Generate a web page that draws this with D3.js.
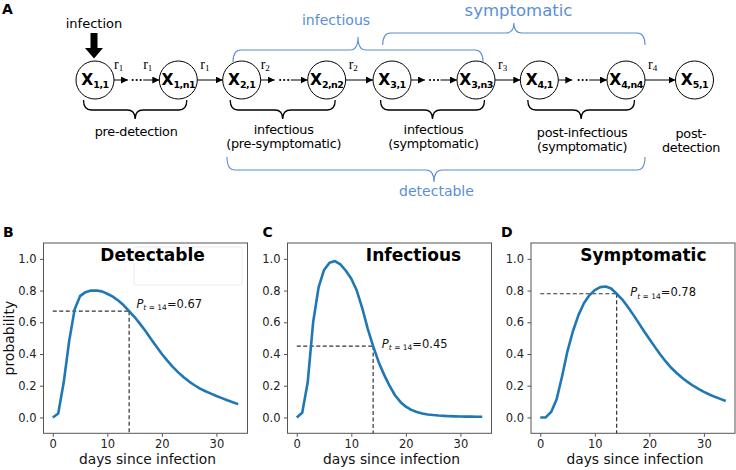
<!DOCTYPE html>
<html><head><meta charset="utf-8">
<script src="https://cdn.jsdelivr.net/npm/d3@7"></script>
<style>body{margin:0;background:#fff}svg{display:block}</style>
</head><body>
<svg id="chart" width="736" height="470"></svg>
<script>
// ---------------- DATA ----------------
const days = d3.range(0, 35);
const detectable = [0, 0.025, 0.22, 0.48, 0.68, 0.765, 0.79, 0.80, 0.80, 0.795,
  0.78, 0.762, 0.737, 0.707, 0.67, 0.633, 0.59, 0.545, 0.495, 0.447,
  0.40, 0.358, 0.319, 0.284, 0.253, 0.226, 0.203, 0.182, 0.165, 0.150,
  0.135, 0.122, 0.108, 0.096, 0.084];
const infectious = [0, 0.03, 0.22, 0.6, 0.82, 0.93, 0.976, 0.986, 0.965, 0.925,
  0.875, 0.80, 0.69, 0.56, 0.45, 0.35, 0.27, 0.2, 0.14, 0.098,
  0.068, 0.048, 0.034, 0.025, 0.019, 0.015, 0.012, 0.010, 0.008, 0.007,
  0.006, 0.005, 0.005, 0.004, 0.004];
const symptomatic = [0, 0.0, 0.035, 0.115, 0.26, 0.42, 0.545, 0.645, 0.72, 0.77,
  0.803, 0.822, 0.826, 0.813, 0.78, 0.745, 0.70, 0.65, 0.598, 0.545,
  0.495, 0.445, 0.397, 0.353, 0.313, 0.28, 0.25, 0.224, 0.2, 0.18,
  0.161, 0.145, 0.13, 0.117, 0.104];
const panelTitles = ["Detectable", "Infectious", "Symptomatic"];
const panelLetters = ["B", "C", "D"];
const checkDay = 14;
const checkValues = [0.67, 0.45, 0.78];
const xTicks = [0, 10, 20, 30];
const yTicks = [0, 0.2, 0.4, 0.6, 0.8, 1.0];
const xLabel = "days since infection";
const yLabel = "probability";

// diagram content
const nodeSubs = ["1,1", "1,n1", "2,1", "2,n2", "3,1", "3,n3", "4,1", "4,n4", "5,1"];
const chains = [[0, 1], [2, 3], [4, 5], [6, 7]];
const transitions = [[1, 2, "1"], [3, 4, "2"], [5, 6, "3"], [7, 8, "4"]];
const chainRates = [["0a", "1"], ["0b", "1"], ["1a", "2"]];
const braceLabels = [["pre-detection"], ["infectious", "(pre-symptomatic)"],
  ["infectious", "(symptomatic)"], ["post-infectious", "(symptomatic)"]];
const endLabel = ["post-", "detection"];
const blueGroups = [
  {label: "infectious", from: 2, to: 5},
  {label: "symptomatic", from: 4, to: 7},
  {label: "detectable", from: 2, to: 7}
];

// ---------------- LAYOUT ----------------
const svg = d3.select("#chart");
const FONT = "DejaVu Sans, Verdana, sans-serif";
const BLUE = "#5b8ed8";
const nodeX = [95, 178.3, 241.7, 326.7, 392, 476, 539.3, 626, 694.5];
const nodeY = 80, R = 19;

svg.append("defs").append("marker")
  .attr("id", "ah").attr("markerUnits", "userSpaceOnUse")
  .attr("markerWidth", 8).attr("markerHeight", 7)
  .attr("refX", 7).attr("refY", 3.5).attr("orient", "auto")
  .append("path").attr("d", "M0,0 L7,3.5 L0,7 z").attr("fill", "#000");

const A = svg.append("g");
A.append("text").attr("x", 2).attr("y", 14).text("A")
  .attr("font-family", FONT).attr("font-weight", "bold").attr("font-size", 14);

function arrow(x1, x2) {
  A.append("line").attr("x1", x1).attr("x2", x2).attr("y1", nodeY).attr("y2", nodeY)
    .attr("stroke", "#000").attr("stroke-width", 1).attr("marker-end", "url(#ah)");
}
function rateLabel(x, sub) {
  const t = A.append("text").attr("x", x).attr("y", 69)
    .attr("font-family", "Liberation Serif, serif").attr("font-size", 14);
  t.append("tspan").text("r");
  t.append("tspan").attr("font-size", 9).attr("dy", 2).text(sub);
}

// chains with dots
const chainStarts = {};
chains.forEach(([a, b], i) => {
  const e1 = nodeX[a] + R, e2 = nodeX[b] - R, mid = (e1 + e2) / 2;
  arrow(e1, e1 + 14);
  [-4, 0, 4].forEach(dx => A.append("circle").attr("cx", mid + dx).attr("cy", nodeY)
    .attr("r", 1.1).attr("fill", "#000"));
  arrow(mid + 6.5, e2);
  chainStarts[i + "a"] = e1;
  chainStarts[i + "b"] = mid + 6.5;
});
chainRates.forEach(([k, s]) => rateLabel(chainStarts[k] + 0, s));
transitions.forEach(([a, b, s]) => {
  const e1 = nodeX[a] + R, e2 = nodeX[b] - R;
  arrow(e1, e2);
  rateLabel(e1 + 3, s);
});

// nodes
nodeSubs.forEach((s, i) => {
  A.append("circle").attr("cx", nodeX[i]).attr("cy", nodeY).attr("r", R)
    .attr("fill", "#fff").attr("stroke", "#000").attr("stroke-width", 1);
  const t = A.append("text").attr("x", nodeX[i]).attr("y", nodeY + 5)
    .attr("text-anchor", "middle").attr("font-family", FONT).attr("font-weight", "bold");
  t.append("tspan").attr("font-size", 15.5).text("X");
  t.append("tspan").attr("font-size", 9.5).attr("dy", 2.5).attr("letter-spacing", -0.5).text(s);
});

// infection arrow
const ix = nodeX[0] - 1;
A.append("path").attr("d",
  `M${ix-3.5},33 L${ix+3.5},33 L${ix+3.5},48 L${ix+9},48 L${ix},58.5 L${ix-9},48 L${ix-3.5},48 Z`)
  .attr("fill", "#000");
A.append("text").attr("x", ix).attr("y", 28).attr("text-anchor", "middle")
  .attr("font-family", FONT).attr("font-size", 13).text("infection");

// brace path: horizontal brace from x0 to x1, ends at yEnd, bar at yBar, tip at yTip
function brace(x0, x1, yEnd, yBar, yTip, xm) {
  const r = 8, m = xm === undefined ? (x0 + x1) / 2 : xm;
  return `M${x0},${yEnd} Q${x0},${yBar} ${x0 + r},${yBar} L${m - r},${yBar} Q${m},${yBar} ${m},${yTip}` +
    ` Q${m},${yBar} ${m + r},${yBar} L${x1 - r},${yBar} Q${x1},${yBar} ${x1},${yEnd}`;
}

// black braces
const braceBase = [[136], [133.5, 147.5], [133.5, 147.5], [136.5, 150.5]];
chains.forEach(([a, b], i) => {
  const x0 = nodeX[a] - 11.5, x1 = nodeX[b] + 8.5, m = (x0 + x1) / 2;
  A.append("path").attr("d", brace(x0, x1, 100, 110, 119, m))
    .attr("fill", "none").attr("stroke", "#000").attr("stroke-width", 1.3);
  braceLabels[i].forEach((line, j) => {
    A.append("text").attr("x", m + 1).attr("y", braceBase[i][j]).attr("text-anchor", "middle")
      .attr("font-family", FONT).attr("font-size", 12.8).attr("letter-spacing", -0.25).text(line);
  });
});
endLabel.forEach((line, j) => {
  A.append("text").attr("x", nodeX[8] - 3.5).attr("y", [137.5, 151.5][j]).attr("text-anchor", "middle")
    .attr("font-family", FONT).attr("font-size", 12.8).attr("letter-spacing", -0.25).text(line);
});

// blue braces
const blueGeom = [
  {x0: 233, x1: 483, yEnd: 62, yBar: 50, yTip: 37, tx: 336, ty: 25, fs: 14},
  {x0: 382.7, x1: 645, yEnd: 45, yBar: 33, yTip: 23, tx: 518.5, ty: 16, fs: 16.5},
  {x0: 227, x1: 645, yEnd: 157, yBar: 170, yTip: 182, tx: 436.5, ty: 196, fs: 14}
];
blueGroups.forEach((g, i) => {
  const G = blueGeom[i];
  A.append("path").attr("d", brace(G.x0, G.x1, G.yEnd, G.yBar, G.yTip, i === 2 ? 434 : undefined))
    .attr("fill", "none").attr("stroke", BLUE).attr("stroke-width", 1.1);
  A.append("text").attr("x", G.tx).attr("y", G.ty).attr("text-anchor", "middle")
    .attr("font-family", FONT).attr("font-size", G.fs).attr("fill", BLUE).text(g.label);
});

// ---------------- CHARTS ----------------
const series = [detectable, infectious, symptomatic];
const panelLeft = [43.5, 287.5, 531];
const PW = 204, PT = 243, PH = 190.3;
const titleX = [18.3, 21.4, 18.9];
const annPos = [[15.33, 0.693], [15.6, 0.441], [16.5, 0.764]];

series.forEach((vals, i) => {
  const L = panelLeft[i];
  const x = d3.scaleLinear().domain([-1.7, 35.7]).range([L, L + PW]);
  const y = d3.scaleLinear().domain([-0.1, 1.1]).range([PT + PH, PT]);
  const g = svg.append("g").attr("font-family", FONT);

  if (i === 0) {
    g.append("rect").attr("x", L + 90.5).attr("y", PT + 4).attr("width", 108).attr("height", 38)
      .attr("rx", 2).attr("fill", "#fff").attr("stroke", "#ececec").attr("stroke-width", 1);
  }

  const xa = g.append("g").attr("transform", `translate(0,${PT + PH})`)
    .call(d3.axisBottom(x).tickValues(xTicks).tickFormat(d3.format("d")).tickSize(3.5).tickPadding(3.5));
  const ya = g.append("g").attr("transform", `translate(${L},0)`)
    .call(d3.axisLeft(y).tickValues(yTicks).tickFormat(d3.format(".1f")).tickSize(3.5).tickPadding(3.5));
  [xa, ya].forEach(a => {
    a.select(".domain").remove();
    a.selectAll("line").attr("stroke", "#555");
    a.selectAll("text").attr("font-size", 11.5).attr("fill", "#222").attr("font-family", FONT);
  });
  g.append("rect").attr("x", L).attr("y", PT).attr("width", PW).attr("height", PH)
    .attr("fill", "none").attr("stroke", "#555").attr("stroke-width", 1);

  // dashed guides
  const p = checkValues[i];
  g.append("line").attr("x1", x(0)).attr("x2", x(checkDay)).attr("y1", y(p)).attr("y2", y(p))
    .attr("stroke", "#333").attr("stroke-width", 1.2).attr("stroke-dasharray", "4,2.5");
  g.append("line").attr("x1", x(checkDay)).attr("x2", x(checkDay)).attr("y1", y(p)).attr("y2", y(-0.1))
    .attr("stroke", "#333").attr("stroke-width", 1.2).attr("stroke-dasharray", "4,2.5");

  // curve
  g.append("path").datum(days.map((d, k) => [d, vals[k]]))
    .attr("d", d3.line().x(d => x(d[0])).y(d => y(d[1])))
    .attr("fill", "none").attr("stroke", "#1f77b4").attr("stroke-width", 2.6)
    .attr("stroke-linejoin", "round").attr("stroke-linecap", "butt");

  // annotation
  const t = g.append("text").attr("x", x(annPos[i][0])).attr("y", y(annPos[i][1]))
    .attr("font-size", 11.5).attr("fill", "#111");
  t.append("tspan").attr("font-style", "italic").text("P");
  t.append("tspan").attr("font-size", 7.5).attr("dy", 2.5).attr("font-style", "italic").text("t");
  t.append("tspan").attr("font-size", 7.5).text(" = " + checkDay);
  t.append("tspan").attr("dy", -2.5).text("=" + p.toFixed(2));

  // title
  g.append("text").attr("x", x(titleX[i])).attr("y", 261).attr("text-anchor", "middle")
    .attr("font-size", 17).attr("font-weight", "bold").attr("fill", "#000").text(panelTitles[i]);

  // letters
  svg.append("text").attr("x", [3, 262.5, 501][i]).attr("y", 237).text(panelLetters[i])
    .attr("font-family", FONT).attr("font-weight", "bold").attr("font-size", 14);

  // axis labels
  g.append("text").attr("x", L + PW / 2 + 2).attr("y", 464).attr("text-anchor", "middle")
    .attr("font-size", 13.8).attr("fill", "#111").text(xLabel);
  if (i === 0) {
    g.append("text").attr("transform", `translate(14,${PT + PH / 2}) rotate(-90)`)
      .attr("text-anchor", "middle").attr("font-size", 14).attr("fill", "#111").text(yLabel);
  }
});
</script>
</body></html>
